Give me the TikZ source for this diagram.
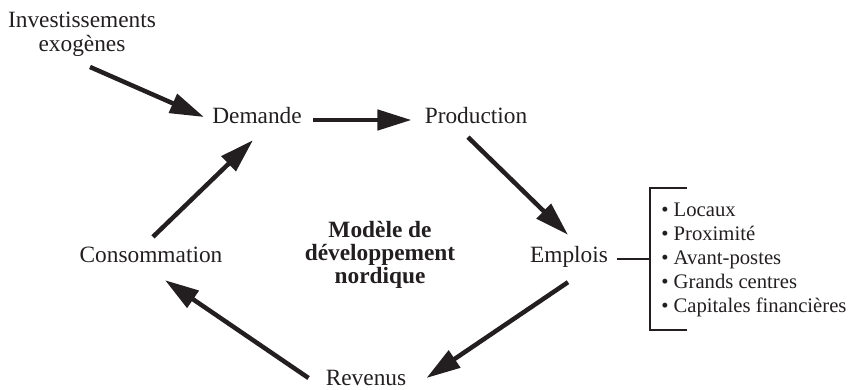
\documentclass[tikz,border=0pt]{standalone}
\usepackage{fontspec}
\setmainfont{Liberation Serif}
\usepackage{tikz}
\usetikzlibrary{arrows.meta, positioning, calc}
\definecolor{inkblack}{HTML}{231F20}

\begin{document}
\begin{tikzpicture}[
  x=0.025cm, y=-0.025cm,
  textblock/.style={inner sep=0pt, font=\fontsize{16.6}{17}\selectfont,
    text=inkblack, align=center},
  label/.style={textblock, text height=12pt, text depth=3.5pt},
  arrow/.style={-{Triangle[length=0.85cm, width=0.5cm]}, line width=3.2pt, inkblack},
  bracket/.style={line width=1.8pt, inkblack}
]
  \useasboundingbox (0,0) rectangle (855,389);

  \node[textblock, anchor=north] (inv) at (82,12) {Investissements\\exogènes};
  \node[label] (dem) at (257,118) {Demande};
  \node[label] (prod) at (476,118) {Production};
  \node[label] (emp) at (569,257) {Emplois};
  \node[label] (rev) at (366,380) {Revenus};
  \node[label] (cons) at (151,257) {Consommation};
  \node[textblock, font=\fontsize{16.6}{16.4}\selectfont\bfseries] (mdl) at (380,255)
    {Modèle de\\développement\\nordique};

  \node[inner sep=0pt, anchor=west, align=left, text=inkblack,
    font=\fontsize{14.7}{17}\selectfont] (list) at (661,260) {%
    • Locaux\\
    • Proximité\\
    • Avant-postes\\
    • Grands centres\\
    • Capitales financières};

  % cycle
  \draw[arrow] ([shift={(8,10)}]inv.south) -- ([shift={(-8,-1)}]dem.west);
  \draw[arrow] ([shift={(11,2)}]dem.east) -- ([shift={(-13,2)}]prod.west);
  \draw[arrow] ([shift={(-8,8)}]prod.south) -- ([shift={(-1,-11)}]emp.north);
  \draw[arrow] ([shift={(-1,14)}]emp.south) -- ([shift={(20,-2)}]rev.east);
  \draw[arrow] ([shift={(-17,-2)}]rev.west) -- ([shift={(14,12)}]cons.south);
  \draw[arrow] ([shift={(2,-9)}]cons.north) -- ([shift={(-4,11)}]dem.south);

  % bracket
  \coordinate (brk) at (650,259);
  \draw[bracket] ([shift={(9,2)}]emp.east) -- (brk);
  \draw[bracket] (687,188) -- (650,188) -- (650,330) -- (687,330);
\end{tikzpicture}
\end{document}
